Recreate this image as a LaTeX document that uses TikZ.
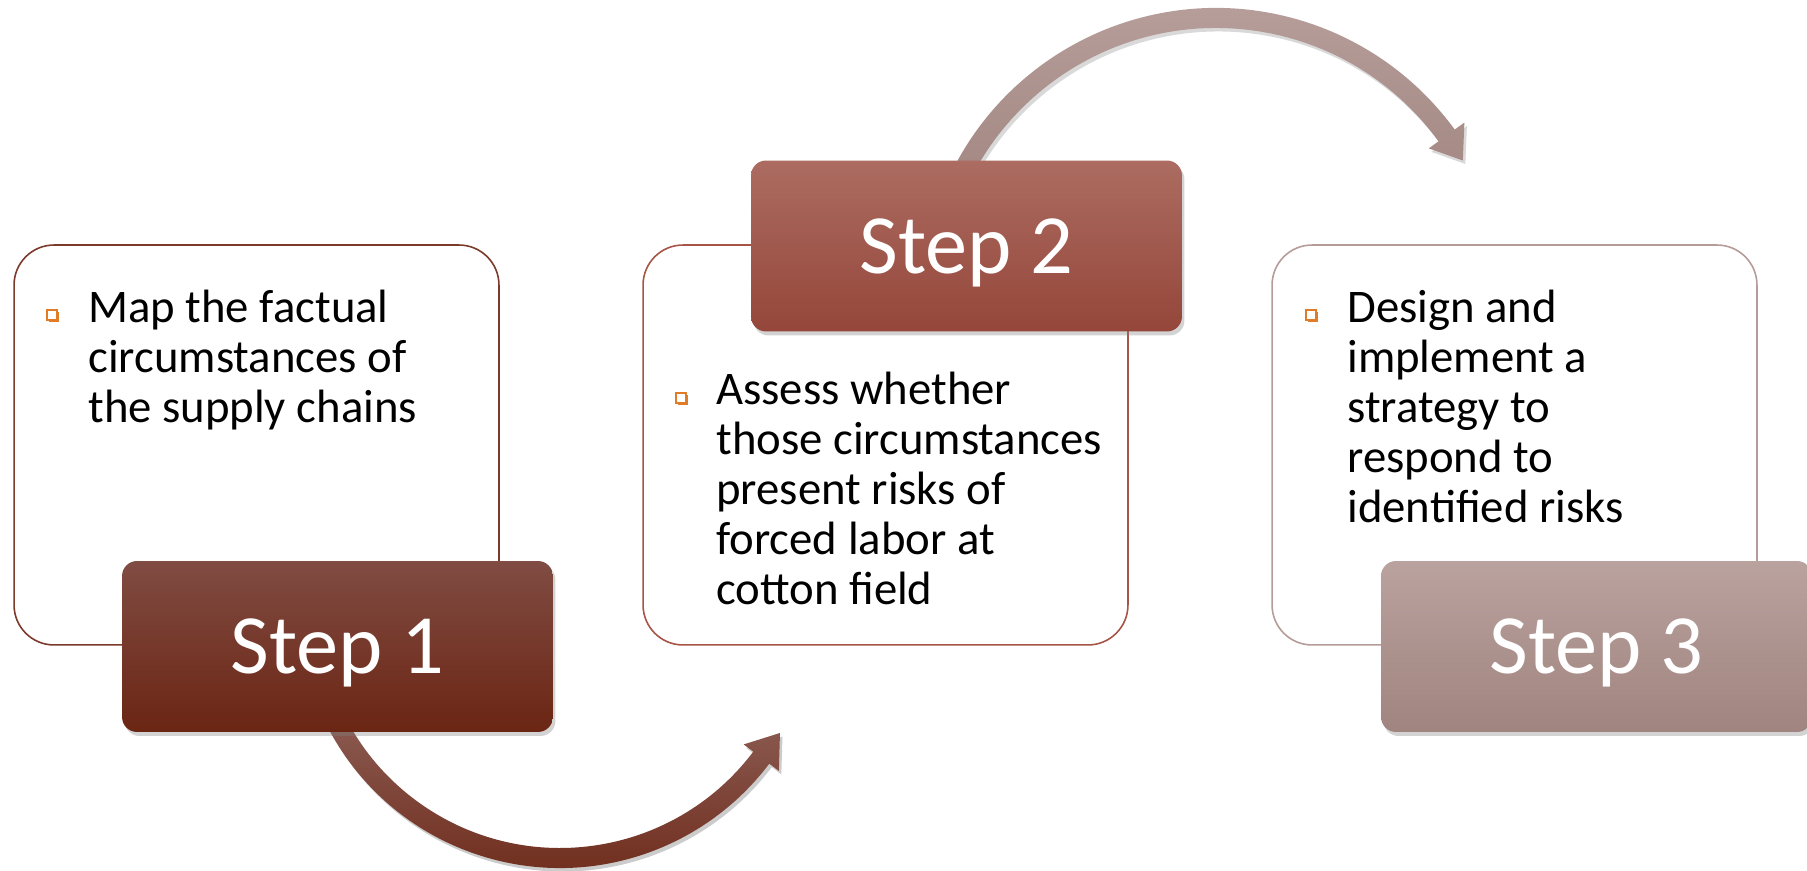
\documentclass[tikz,border=0pt]{standalone}
\usepackage{fontspec}
\setmainfont{Carlito}
\usetikzlibrary{shadows}
\definecolor{steponetop}{HTML}{804C43}
\definecolor{steponebot}{HTML}{6B2513}
\definecolor{steptwotop}{HTML}{AC6C61}
\definecolor{steptwobot}{HTML}{95463A}
\definecolor{stepthreetop}{HTML}{BAA29E}
\definecolor{stepthreebot}{HTML}{A0847F}
\definecolor{boxoneline}{HTML}{7B3A2A}
\definecolor{boxtwoline}{HTML}{A65445}
\definecolor{boxthreeline}{HTML}{B59C98}
\definecolor{bulletorange}{HTML}{E07B28}

\begin{document}
\begin{tikzpicture}[x=0.02cm,y=0.02cm,
	textbox/.style={rounded corners=0.8cm, fill=white, line width=0.9pt, minimum width=9.7cm, minimum height=8cm, inner sep=0pt},
	stepbox/.style={rounded corners=0.3cm, minimum width=8.62cm, minimum height=3.42cm, inner sep=0pt, text=white, text depth=0pt, font=\fontsize{48}{48}\selectfont, drop shadow={opacity=0.35, shadow xshift=0.05cm, shadow yshift=-0.08cm}},
	bullet/.style={draw=bulletorange, fill=white, line width=0.7pt, minimum size=0.2cm, inner sep=0pt, drop shadow={fill=bulletorange, opacity=1, shadow xshift=0.045cm, shadow yshift=-0.045cm}},
	bodytext/.style={anchor=base west, inner sep=0pt, font=\fontsize{26.6}{28.4}\selectfont}]
	
	\useasboundingbox (0,0) rectangle (1807,871);
	
	% arrow from step 1 to step 2
	\begin{scope}[shift={(560,265)}]
		\shade[top color=steponetop!90!white, bottom color=steponebot, preaction={fill=black, opacity=0.2, transform canvas={xshift=0.05cm, yshift=-0.07cm}}]
			(205:262) arc[start angle=205, end angle=323, radius=262] -- (323:274) -- (330:254) -- (323:230) -- (323:242) arc[start angle=323, end angle=205, radius=242] -- cycle;
	\end{scope}
	
	% arrow from step 2 to step 3
	\begin{scope}[shift={(1216,568)}]
		\shade[top color=stepthreetop, bottom color=stepthreebot, preaction={fill=black, opacity=0.15, transform canvas={xshift=0.05cm, yshift=-0.07cm}}]
			(160:295) arc[start angle=160, end angle=36, radius=295] -- (36:307) -- (30:285) -- (36:263) -- (36:275) arc[start angle=36, end angle=160, radius=275] -- cycle;
	\end{scope}
	
	\node[textbox, draw=boxoneline] (boxone) at (256.5,426) {};
	\node[textbox, draw=boxtwoline] (boxtwo) at (885.5,426) {};
	\node[textbox, draw=boxthreeline] (boxthree) at (1514.5,426) {};
	
	\node[stepbox, top color=steponetop, bottom color=steponebot] (stepone) at (337.5,224.5) {Step 1};
	\node[stepbox, top color=steptwotop, bottom color=steptwobot] (steptwo) at (966.5,625) {Step 2};
	\node[stepbox, top color=stepthreetop, bottom color=stepthreebot] (stepthree) at (1596.5,224.5) {Step 3};
	
	\node[bullet] (bulone) at (52,556) {};
	\node[bullet] (bultwo) at (681,473) {};
	\node[bullet] (bulthree) at (1311,556) {};
	
	\node[bodytext] (textone) at (88,548) {\begin{tabular}[t]{@{}l@{}}Map the factual\\circumstances of\\the supply chains\end{tabular}};
	\node[bodytext] (texttwo) at (716,466) {\begin{tabular}[t]{@{}l@{}}Assess whether\\those circumstances\\present risks of\\forced labor at\\cotton field\end{tabular}};
	\node[bodytext] (textthree) at (1347,548) {\begin{tabular}[t]{@{}l@{}}Design and\\implement a\\strategy to\\respond to\\identified risks\end{tabular}};
	
\end{tikzpicture}
\end{document}
